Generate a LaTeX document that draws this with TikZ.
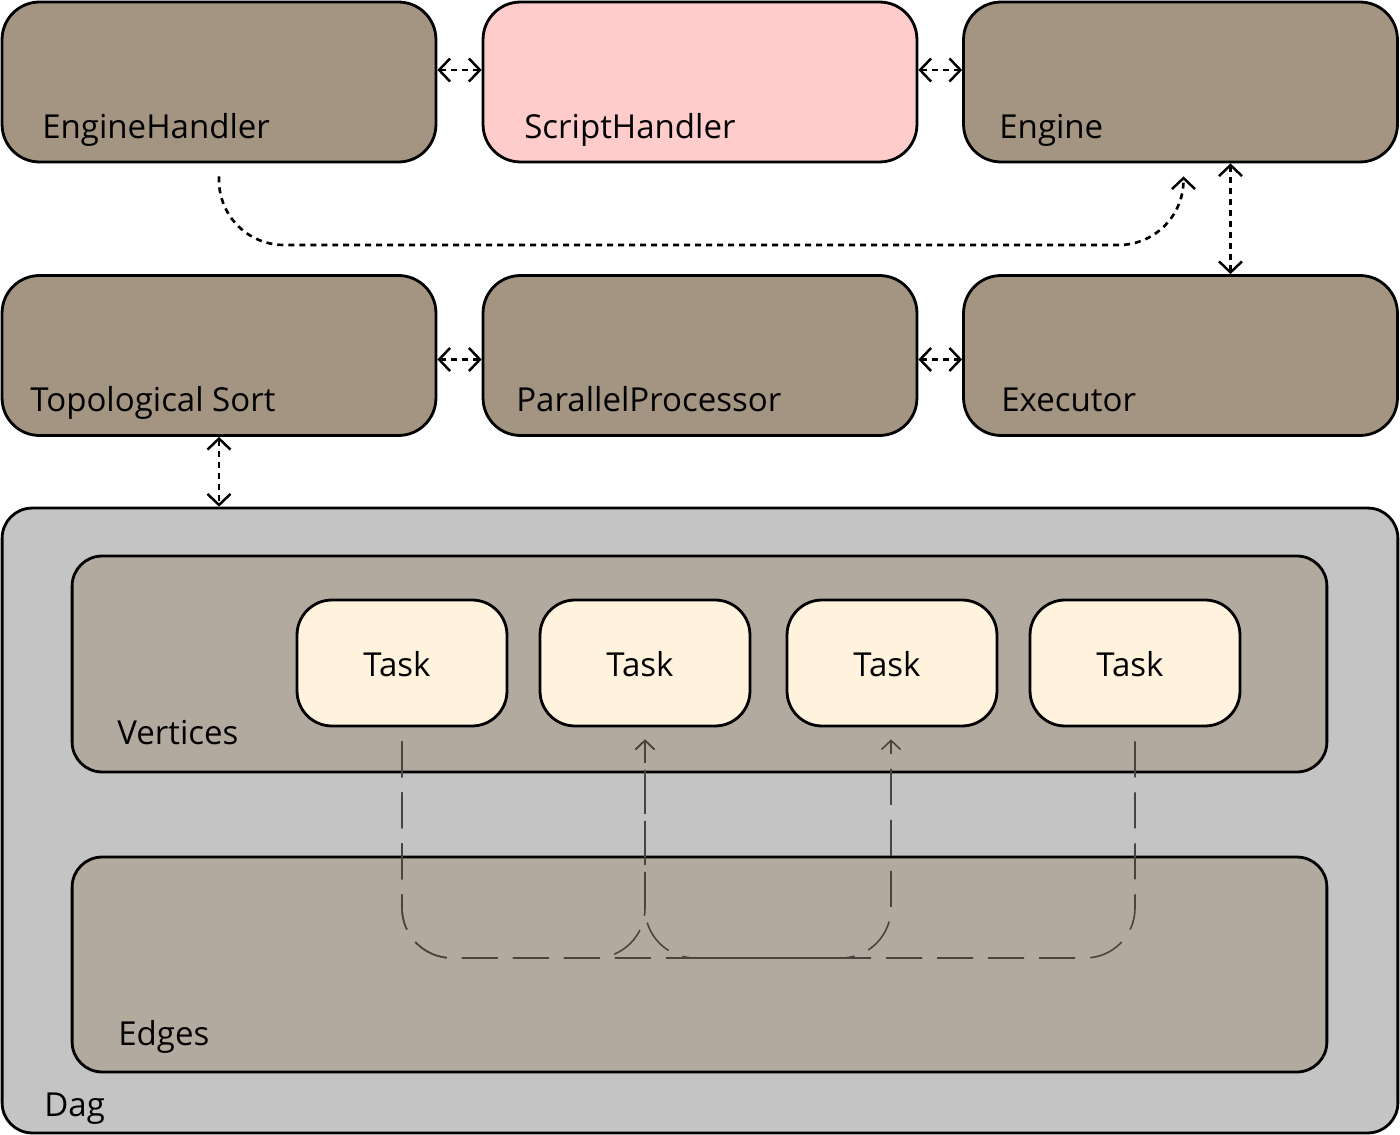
\documentclass[tikz,border=0pt]{standalone}
\usepackage{fontspec}
\setmainfont{Open Sans}
\usetikzlibrary{arrows.meta,calc}
\definecolor{boxbrown}{RGB}{163,149,130}
\definecolor{scriptpink}{RGB}{255,204,204}
\definecolor{daggray}{RGB}{196,196,196}
\definecolor{setbrown}{RGB}{178,170,158}
\definecolor{taskcream}{RGB}{255,243,222}
\definecolor{edgegray}{RGB}{74,68,62}
\tikzset{
	box/.style={draw=black, line width=1.6pt, rounded corners=0.75cm, minimum width=8.68cm, minimum height=3.2cm, inner sep=0pt, fill=boxbrown},
	setbox/.style={draw=black, line width=1.6pt, rounded corners=0.6cm, minimum width=25.1cm, inner sep=0pt, fill=setbrown},
	taskbox/.style={draw=black, line width=1.6pt, rounded corners=0.7cm, minimum width=4.2cm, minimum height=2.52cm, inner sep=0pt, fill=taskcream},
	lbl/.style={anchor=base west, inner sep=0pt, font=\fontsize{18.8}{21}\selectfont},
	tasklbl/.style={inner sep=0pt, font=\fontsize{18.8}{21}\selectfont},
	dotlink/.style={line width=1.6pt, dash pattern=on 0.12cm off 0.1cm, {Straight Barb[length=0.22cm, width=0.46cm, line width=1.4pt]}-{Straight Barb[length=0.22cm, width=0.46cm, line width=1.4pt]}},
	dotcurve/.style={line width=1.5pt, dash pattern=on 0.12cm off 0.1cm, -{Straight Barb[length=0.22cm, width=0.46cm, line width=1.4pt]}},
	dagedge/.style={edgegray, line width=0.9pt, dash pattern=on 0.72cm off 0.3cm, rounded corners=1cm, -{Straight Barb[length=0.18cm, width=0.38cm, line width=0.9pt]}}
}
\begin{document}
\begin{tikzpicture}[x={(0.02cm,0)}, y={(0,-0.02cm)}]
	%%%%% START %%%%%
	\useasboundingbox (0,0) rectangle (1400,1135);
	
	% top row
	\node[box] (eh) at (219,82) {};
	\node[box, fill=scriptpink] (sh) at (700,82) {};
	\node[box] (en) at (1180.5,82) {};
	\node[lbl] at (42,139) {EngineHandler};
	\node[lbl] at (524,139) {ScriptHandler};
	\node[lbl] at (999,139) {Engine};
	
	% second row
	\node[box] (ts) at (219,355.5) {};
	\node[box] (pp) at (700,355.5) {};
	\node[box] (ex) at (1180.5,355.5) {};
	\node[lbl] at (30,411) {Topological Sort};
	\node[lbl] at (516,411) {ParallelProcessor};
	\node[lbl] at (1001,411) {Executor};
	
	% dag
	\node[box, fill=daggray, rounded corners=0.6cm, minimum width=27.92cm, minimum height=12.5cm] (dag) at (700,820.5) {};
	\node[setbox, minimum height=4.32cm] (vert) at (699.5,664) {};
	\node[setbox, minimum height=4.3cm] (edg) at (699.5,964.5) {};
	\node[lbl] at (117,744) {Vertices};
	\node[lbl] at (118,1045) {Edges};
	\node[lbl] at (44,1116) {Dag};
	
	\node[taskbox] (t1) at (402,663) {};
	\node[taskbox] (t2) at (645,663) {};
	\node[taskbox] (t3) at (892,663) {};
	\node[taskbox] (t4) at (1135,663) {};
	\foreach \t in {t1,t2,t3,t4}
		\node[tasklbl] (\t lbl) at ($(\t)+(-5,1)$) {Task};
	
	% links between blocks
	\draw[dotlink] ($(eh.east)+(0,-12)$) -- ($(sh.west)+(0,-12)$);
	\draw[dotlink] ($(sh.east)+(0,-12)$) -- ($(en.west)+(0,-12)$);
	\draw[dotlink] ($(ts.east)+(0,4)$) -- ($(pp.west)+(0,4)$);
	\draw[dotlink] ($(pp.east)+(0,4)$) -- ($(ex.west)+(0,4)$);
	\draw[dotlink] ($(en.south)+(50,0)$) -- ($(ex.north)+(50,0)$);
	\draw[dotlink] (ts.south) -- (ts.south |- dag.north);
	
	\coordinate (ehout) at ($(eh.south)+(0,13)$);
	\coordinate (enin) at ($(en.south)+(3,13)$);
	\coordinate (mid) at (0,245);
	\draw[dotcurve, rounded corners=1.3cm] (ehout) |- (enin |- mid) -- (enin);
	
	% edges of the dag
	\coordinate (low) at (0,958);
	\coordinate (t1e) at ($(t1.south)+(0,14)$);
	\coordinate (t2e) at ($(t2.south)+(0,12)$);
	\coordinate (t3e) at ($(t3.south)+(-1,12)$);
	\coordinate (t4e) at ($(t4.south)+(0,14)$);
	\draw[dagedge] (t1e) |- (t2e |- low) -- (t2e);
	\draw[dagedge] (t1e) |- (t3e |- low) -- (t3e);
	\draw[dagedge] (t4e) |- (t2e |- low) -- (t2e);
	%%%%% END %%%%%
\end{tikzpicture}
\end{document}
